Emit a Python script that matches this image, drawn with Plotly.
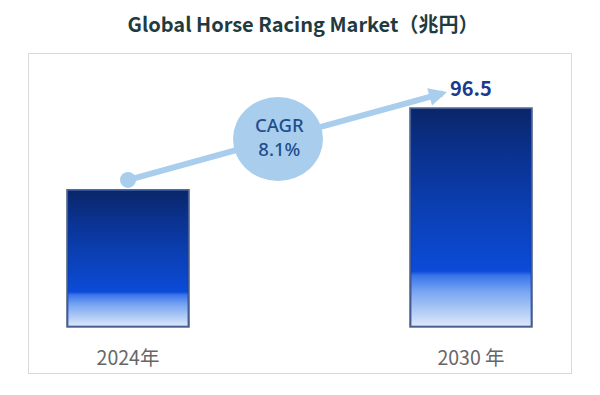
import plotly.graph_objects as go

# ---- data ----
years = ["2024年", "2030 年"]
values = [60.5, 96.5]
value_labels = ["", "96.5"]
cagr_text = "CAGR<br>8.1%"
title_text = "Global Horse Racing Market（兆円）"

# ---- styling ----
bar_width = 0.356
x_pos = list(range(len(years)))
grad_scale = [
    [0.0, "#dfeafc"], [0.06, "#b9d1f6"], [0.16, "#7aa6f2"], [0.235, "#3a74ea"],
    [0.255, "#0c4bd8"], [0.5, "#0b41b8"], [0.78, "#0a3290"], [1.0, "#0a2668"],
]
light_blue = "#a9cdec"

fig = go.Figure()

# base bars (data)
fig.add_trace(go.Bar(
    x=x_pos, y=values, width=bar_width,
    marker=dict(color="#0a3aa0", line=dict(color="#5d6b8a", width=1.5)),
    hoverinfo="skip", showlegend=False,
))

# gradient overlay built from the same data
for xi, v in zip(x_pos, values):
    xl, xr = xi - bar_width / 2 + 0.004, xi + bar_width / 2 - 0.004
    top = v - 0.6
    fig.add_trace(go.Scatter(
        x=[xl, xr, xr, xl, xl], y=[0.6, 0.6, top, top, 0.6],
        fill="toself", mode="lines", line=dict(width=0),
        fillgradient=dict(type="vertical", colorscale=grad_scale, start=0, stop=v),
        hoverinfo="skip", showlegend=False,
    ))

# start dot of CAGR arrow
fig.add_trace(go.Scatter(
    x=[x_pos[0]], y=[values[0] + 4.3], mode="markers",
    marker=dict(size=16, color=light_blue), hoverinfo="skip", showlegend=False,
))

# CAGR arrow
fig.add_annotation(
    x=0.93, y=values[1] + 7, ax=x_pos[0], ay=values[0] + 4.3,
    xref="x", yref="y", axref="x", ayref="y",
    showarrow=True, arrowhead=2, arrowwidth=6, arrowsize=0.6,
    arrowcolor=light_blue, text="",
)

# value label
for xi, v, lab in zip(x_pos, values, value_labels):
    if lab:
        fig.add_annotation(
            x=xi, y=v, xref="x", yref="y", text=lab, showarrow=False,
            yanchor="bottom", yshift=4,
            font=dict(family="Noto Sans CJK JP", size=20, color="#1c3a8c", weight="bold"),
        )

# CAGR circle
fig.add_shape(
    type="circle", xref="paper", yref="paper",
    x0=0.3764, x1=0.5424, y0=0.6019, y1=0.8652,
    fillcolor=light_blue, line=dict(width=0), layer="above",
)
fig.add_annotation(
    x=0.463, y=0.7414, xref="paper", yref="paper", text=cagr_text,
    showarrow=False, yanchor="middle",
    font=dict(family="Noto Sans", size=18.5, color="#1f4e8f", weight=500),
)

fig.update_layout(
    width=600, height=395,
    margin=dict(l=29, r=29, t=54, b=22),
    paper_bgcolor="white", plot_bgcolor="white",
    title=dict(
        text=title_text, x=0.505, xanchor="center", y=0.937, yanchor="middle",
        font=dict(family="Noto Sans CJK JP", size=20, color="#1f3b3f", weight="bold"),
    ),
    xaxis=dict(
        range=[-0.2886, 1.2915], tickvals=x_pos, ticktext=years,
        ticks="", ticklabelposition="inside", ticklabelstandoff=5,
        showgrid=False, zeroline=False,
        showline=True, mirror=True, linecolor="#d9d9d9", linewidth=1,
        tickfont=dict(family="Noto Sans CJK JP", size=19.5, color="#666666"),
        fixedrange=True,
    ),
    yaxis=dict(
        range=[-20.27, 120.3], showticklabels=False, ticks="", showgrid=False,
        zeroline=False, showline=True, mirror=True, linecolor="#d9d9d9",
        linewidth=1, fixedrange=True,
    ),
    showlegend=False,
)

fig.write_html(
    "out.html",
    config={"displayModeBar": False},
    post_script="document.body.style.margin='0';document.body.style.overflow='hidden';",
)
